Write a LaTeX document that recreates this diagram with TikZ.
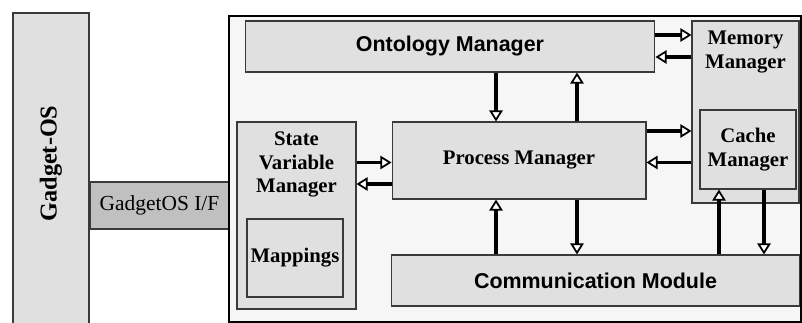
\documentclass[tikz,border=0pt]{standalone}
\usepackage{fontspec}
\setmainfont{Liberation Serif}
\setsansfont{Liberation Sans}
\usepackage{xcolor}
\usepackage{tikz}
\usetikzlibrary{arrows.meta, calc}

\definecolor{boxgray}{HTML}{E0E0E0}
\definecolor{ifgray}{HTML}{C0C0C0}
\definecolor{coregray}{HTML}{F6F6F6}
\definecolor{edgegray}{HTML}{3A3A3A}

\begin{document}
\begin{tikzpicture}[x=0.02cm, y=-0.02cm,
    box/.style={draw=edgegray, line width=0.6pt, fill=boxgray, inner sep=0pt, align=center},
    serif/.style={font=\fontsize{11.8}{13.4}\selectfont\bfseries},
    sans/.style={font=\sffamily\fontsize{12.2}{14}\selectfont\bfseries},
    flow/.style={line width=2pt, -{Triangle[fill=white, line width=1pt, length=6.3pt, width=7.6pt]}}]

    % 1. Khung ảnh
    \useasboundingbox (0,0) rectangle (802,323);
    \clip (0,0) rectangle (802,323);

    % 2. Gadget-OS và giao diện
    \node[box, minimum width=1.52cm, minimum height=6.54cm] (gos) at (51,176.5) {};
    \node[rotate=90, font=\fontsize{13.8}{16}\selectfont\bfseries] (gostxt) at (51,163.5) {Gadget-OS};
    \node[box, fill=ifgray, minimum width=2.78cm, minimum height=0.94cm,
          font=\fontsize{12.2}{14}\selectfont] (iface) at (159.5,205.5) {GadgetOS I/F};

    % 3. Khung middleware
    \node[draw=black, line width=1.2pt, fill=coregray, inner sep=0pt,
          minimum width=11.44cm, minimum height=6.12cm] (core) at (515,169) {};

    % 4. Các khối bên trong
    \node[box, sans, minimum width=8.2cm, minimum height=1.02cm] (onto) at (450,46.5) {Ontology Manager};
    \node[box, serif, minimum width=2.14cm, minimum height=3.64cm,
          label={[serif, anchor=north, align=center, yshift=-2.5pt]north:Memory\\Manager}] (mem) at (745.5,112) {};
    \node[box, serif, minimum width=1.92cm, minimum height=1.58cm] (cache) at (748,149.5) {Cache\\Manager};
    \node[box, serif, minimum width=2.38cm, minimum height=3.74cm,
          label={[serif, anchor=north, align=center, yshift=-2.5pt]north:State\\Variable\\Manager}] (svm) at (296.5,215.5) {};
    \node[box, serif, minimum width=1.92cm, minimum height=1.56cm] (map) at (295,258) {Mappings};
    \node[box, serif, minimum width=5.08cm, minimum height=1.54cm] (proc) at (519,160.5) {Process Manager};
    \node[box, sans, minimum width=8.18cm, minimum height=1.02cm] (comm) at (595.5,280.5) {Communication Module};

    % 5. Các mũi tên
    \coordinate (xa) at (496,0);
    \coordinate (xb) at (577,0);
    \coordinate (xc) at (719,0);
    \coordinate (xd) at (764,0);
    \coordinate (ya) at (0,35);
    \coordinate (yb) at (0,57);
    \coordinate (yc) at (0,131);
    \coordinate (yd) at (0,162.5);
    \coordinate (ye) at (0,184);

    \draw[flow] (xa |- onto.south) -- (xa |- proc.north);
    \draw[flow] (xb |- proc.north) -- (xb |- onto.south);
    \draw[flow] (onto.east |- ya) -- (mem.west |- ya);
    \draw[flow] (mem.west |- yb) -- (onto.east |- yb);
    \draw[flow] (proc.east |- yc) -- (mem.west |- yc);
    \draw[flow] (mem.west |- yd) -- (proc.east |- yd);
    \draw[flow] (svm.east |- yd) -- (proc.west |- yd);
    \draw[flow] (proc.west |- ye) -- (svm.east |- ye);
    \draw[flow] (xb |- proc.south) -- (xb |- comm.north);
    \draw[flow] (xa |- comm.north) -- (xa |- proc.south);
    \draw[flow] (xc |- comm.north) -- (xc |- cache.south);
    \draw[flow] (xd |- cache.south) -- (xd |- comm.north);
\end{tikzpicture}
\end{document}
